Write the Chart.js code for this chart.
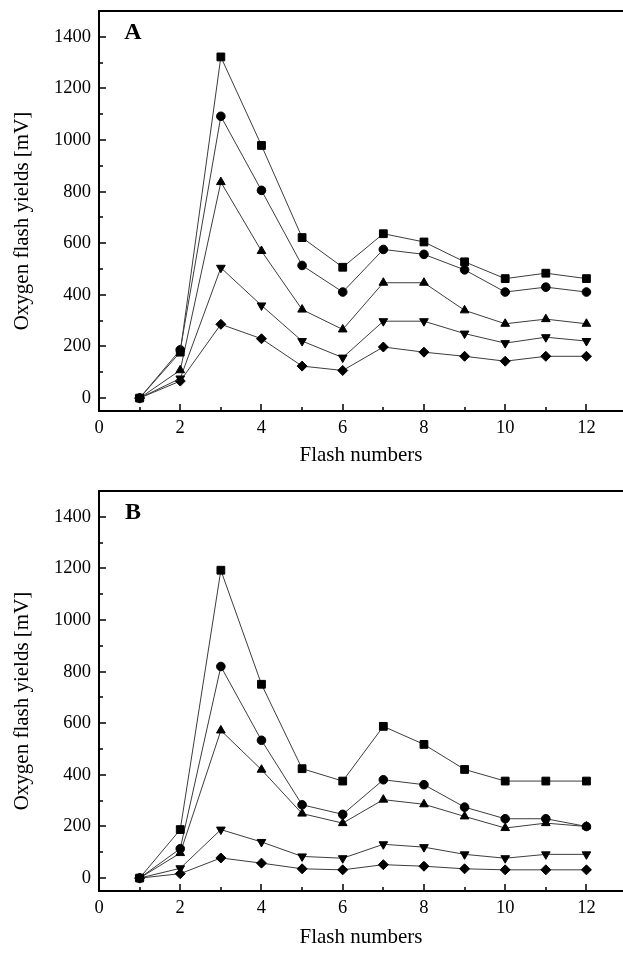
<!DOCTYPE html>
<html>
<head>
<meta charset="utf-8">
<script src="https://cdn.jsdelivr.net/npm/chart.js@4.4.0/dist/chart.umd.min.js"></script>
<style>
  html, body { margin: 0; padding: 0; background: #fff; }
  #wrap { width: 623px; height: 953px; }
  .panel { position: relative; width: 623px; }
  #panelA { height: 476px; }
  #panelB { height: 477px; }
</style>
</head>
<body>
<div id="wrap">
  <div class="panel" id="panelA"><canvas id="chartA"></canvas></div>
  <div class="panel" id="panelB"><canvas id="chartB"></canvas></div>
</div>
<script>
// flash number on x, oxygen flash yield (mV) on y
const flashNumbers = [1, 2, 3, 4, 5, 6, 7, 8, 9, 10, 11, 12];

// panel A
const aSquare   = [0, 178, 1322, 979, 622, 507, 637, 605, 528, 463, 484, 463];
const aCircle   = [0, 187, 1092, 805, 514, 411, 576, 557, 497, 411, 430, 411];
const aTriUp    = [0, 108, 837, 570, 343, 266, 447, 447, 340, 288, 306, 288];
const aTriDown  = [0, 76, 505, 359, 221, 157, 298, 298, 250, 213, 236, 221];
const aDiamond  = [0, 66, 286, 230, 124, 107, 198, 178, 162, 143, 162, 162];

// panel B
const bSquare   = [0, 188, 1193, 751, 424, 376, 588, 518, 421, 376, 376, 376];
const bCircle   = [0, 114, 820, 534, 284, 247, 381, 362, 275, 230, 230, 200];
const bTriUp    = [0, 97, 572, 420, 250, 213, 304, 286, 239, 194, 213, 200];
const bTriDown  = [0, 38, 188, 140, 84, 77, 131, 120, 92, 77, 92, 92];
const bDiamond  = [0, 17, 78, 58, 36, 32, 52, 46, 36, 32, 32, 32];

const xTickLabels = [0, 2, 4, 6, 8, 10, 12];
const yTickLabels = [0, 200, 400, 600, 800, 1000, 1200, 1400];

const X_TITLE = 'Flash numbers';
const Y_TITLE = 'Oxygen flash yields [mV]';
const FONT = "'Liberation Serif', 'Times New Roman', serif";

Chart.defaults.font.family = FONT;
Chart.defaults.font.size = 18.5;
Chart.defaults.color = '#000';

const MARKERS = [
  { pointStyle: 'rect', radius: 5.5, rotation: 0 },
  { pointStyle: 'circle', radius: 4.3, rotation: 0 },
  { pointStyle: 'triangle', radius: 5, rotation: 0 },
  { pointStyle: 'triangle', radius: 5, rotation: 180 },
  { pointStyle: 'rectRot', radius: 5, rotation: 0 }
];

// inward ticks, top frame line, rotated y title and the panel letter
const frameAndTicks = {
  id: 'frameAndTicks',
  afterDraw(chart, args, opts) {
    const { ctx, chartArea } = chart;
    const xs = chart.scales.x;
    const ys = chart.scales.y;
    ctx.save();
    ctx.strokeStyle = '#000';
    ctx.lineWidth = 2;
    ctx.beginPath();
    ctx.moveTo(chartArea.left - 1, chartArea.top);
    ctx.lineTo(chartArea.right, chartArea.top);
    ctx.stroke();

    ctx.lineWidth = 1.5;
    ctx.beginPath();
    for (const t of xs.ticks) {
      if (!Number.isInteger(t.value) || t.value < 0 || t.value > 12) continue;
      const px = Math.round(xs.getPixelForValue(t.value));
      const len = xTickLabels.includes(t.value) ? 7 : 4;
      ctx.moveTo(px, chartArea.bottom);
      ctx.lineTo(px, chartArea.bottom - len);
    }
    for (const t of ys.ticks) {
      if (t.value < 0 || t.value > 1400) continue;
      const py = Math.round(ys.getPixelForValue(t.value));
      const len = yTickLabels.includes(t.value) ? 7 : 4;
      ctx.moveTo(chartArea.left, py);
      ctx.lineTo(chartArea.left + len, py);
    }
    ctx.stroke();

    ctx.fillStyle = '#000';
    ctx.font = 'bold 24px ' + FONT;
    ctx.textAlign = 'center';
    ctx.textBaseline = 'alphabetic';
    ctx.fillText(opts.letter, 133, chartArea.top + 28);

    ctx.font = '21px ' + FONT;
    ctx.textBaseline = 'middle';
    ctx.translate(22, (chartArea.top + chartArea.bottom) / 2 + 10);
    ctx.rotate(-Math.PI / 2);
    ctx.fillText(Y_TITLE, 0, 0);
    ctx.restore();
  }
};

class FlashChart {
  constructor(canvasId, series, letter, layout) {
    const ctx = document.getElementById(canvasId).getContext('2d');
    this.chart = new Chart(ctx, {
      type: 'line',
      data: { datasets: this.buildDatasets(series) },
      options: this.buildOptions(letter, layout),
      plugins: [frameAndTicks]
    });
  }

  buildDatasets(series) {
    return series.map((values, i) => ({
      data: flashNumbers.map((x, j) => ({ x, y: values[j] })),
      borderColor: '#3c3c3c',
      borderWidth: 1,
      backgroundColor: '#000',
      pointBackgroundColor: '#000',
      pointBorderColor: '#000',
      pointBorderWidth: 1,
      pointStyle: MARKERS[i].pointStyle,
      pointRadius: MARKERS[i].radius,
      pointRotation: MARKERS[i].rotation,
      pointHoverRadius: MARKERS[i].radius,
      tension: 0,
      fill: false,
      clip: false
    }));
  }

  buildOptions(letter, layout) {
    return {
      responsive: true,
      maintainAspectRatio: false,
      animation: false,
      layout: {
        autoPadding: false,
        padding: { top: layout.top, left: 0, right: 0, bottom: 0 }
      },
      plugins: {
        legend: { display: false },
        tooltip: { enabled: false },
        frameAndTicks: { letter }
      },
      scales: {
        x: {
          type: 'linear',
          min: 0,
          max: 12.9,
          afterFit: s => {
            s.height = layout.xHeight;
            s.paddingLeft = 0;
            s.paddingRight = 0;
          },
          ticks: {
            stepSize: 1,
            includeBounds: false,
            autoSkip: false,
            maxRotation: 0,
            padding: 6,
            callback: v => (xTickLabels.includes(v) ? String(v) : '')
          },
          grid: { drawOnChartArea: false, drawTicks: false },
          border: { display: true, color: '#000', width: 2 },
          title: {
            display: true,
            text: X_TITLE,
            font: { size: 21 },
            padding: { top: 0, bottom: layout.titlePad }
          }
        },
        y: {
          type: 'linear',
          min: -50,
          max: 1500,
          afterFit: s => {
            s.width = 99;
            s.paddingTop = 0;
            s.paddingBottom = 0;
          },
          ticks: {
            stepSize: 100,
            includeBounds: false,
            autoSkip: false,
            padding: 8,
            callback: v => (yTickLabels.includes(v) ? String(v) : '')
          },
          grid: { drawOnChartArea: false, drawTicks: false },
          border: { display: true, color: '#000', width: 2 }
        }
      }
    };
  }
}

new FlashChart('chartA', [aSquare, aCircle, aTriUp, aTriDown, aDiamond], 'A',
  { top: 11, xHeight: 65, titlePad: 8 });
new FlashChart('chartB', [bSquare, bCircle, bTriUp, bTriDown, bDiamond], 'B',
  { top: 15, xHeight: 62, titlePad: 3 });
</script>
</body>
</html>
